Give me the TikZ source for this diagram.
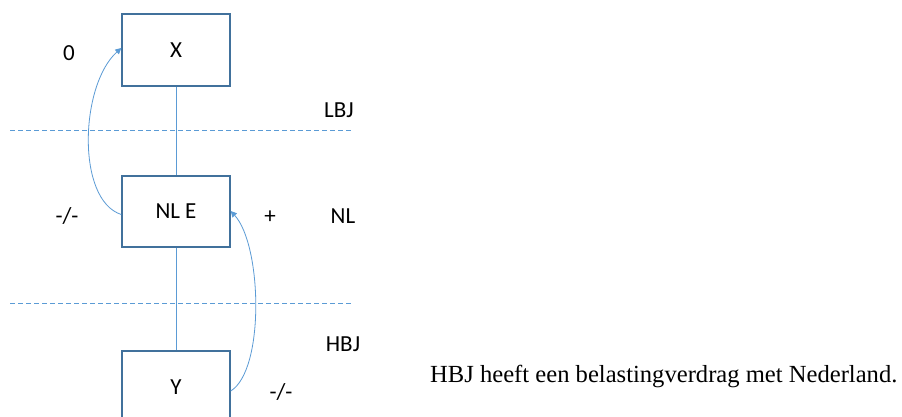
\documentclass[tikz,border=0pt]{standalone}
\usepackage{fontspec}
\setmainfont{Carlito}
\newfontfamily\serifnote{Liberation Serif}
\usetikzlibrary{arrows.meta}
\definecolor{boxblue}{HTML}{41719C}
\definecolor{lineblue}{HTML}{5B9BD5}
\tikzset{
  entity/.style={draw=boxblue, line width=1.4pt, fill=white, minimum width=108pt, minimum height=72pt, inner sep=0pt, font=\fontsize{23}{27}\selectfont},
  lbl/.style={inner sep=0pt, font=\fontsize{23}{27}\selectfont},
  link/.style={draw=lineblue, line width=1pt},
  border/.style={draw=lineblue, line width=1pt, dash pattern=on 5pt off 3pt},
  flow/.style={draw=lineblue, line width=0.8pt, -{Triangle[length=6pt,width=6pt]}}
}
\begin{document}
\begin{tikzpicture}[x=1pt,y=-1pt]
\clip (0,0) rectangle (902,416);
\fill[white] (0,0) rectangle (902,416);
% dashed jurisdiction borders
\coordinate (b1l) at (10,130);
\coordinate (b1r) at (353,130);
\coordinate (b2l) at (10,303);
\coordinate (b2r) at (353,303);
\draw[border] (b1l) -- (b1r);
\draw[border] (b2l) -- (b2r);
% entities
\node[entity] (x) at (176,50) {X};
\node[entity, minimum height=71pt] (nle) at (176,211.5) {NL E};
\node[entity] (y) at (176,387) {Y};
\draw[link] (x.south) -- (nle.north);
\draw[link] (nle.south) -- (y.north);
% flows
\draw[flow] ([yshift=-3pt]nle.west) .. controls (76,200) and (80,85) .. ([yshift=2pt]x.west);
\draw[flow] ([yshift=-4pt]y.east) .. controls (265,370) and (262,245) .. ([yshift=0.5pt]nle.east);
% labels
\node[lbl] (l0) at (69,53) {0};
\node[lbl] (lbj) at (339,110) {LBJ};
\node[lbl] (l1) at (67,216) {-/-};
\node[lbl] (lp) at (270,217) {+};
\node[lbl] (nl) at (343,216) {NL};
\node[lbl] (hbj) at (343,344) {HBJ};
\node[lbl] (l2) at (281,392) {-/-};
\node[inner sep=0pt, anchor=west, font=\serifnote\fontsize{24.6}{28}\selectfont] (note) at (430,376) {HBJ heeft een belastingverdrag met Nederland.};
\end{tikzpicture}
\end{document}
